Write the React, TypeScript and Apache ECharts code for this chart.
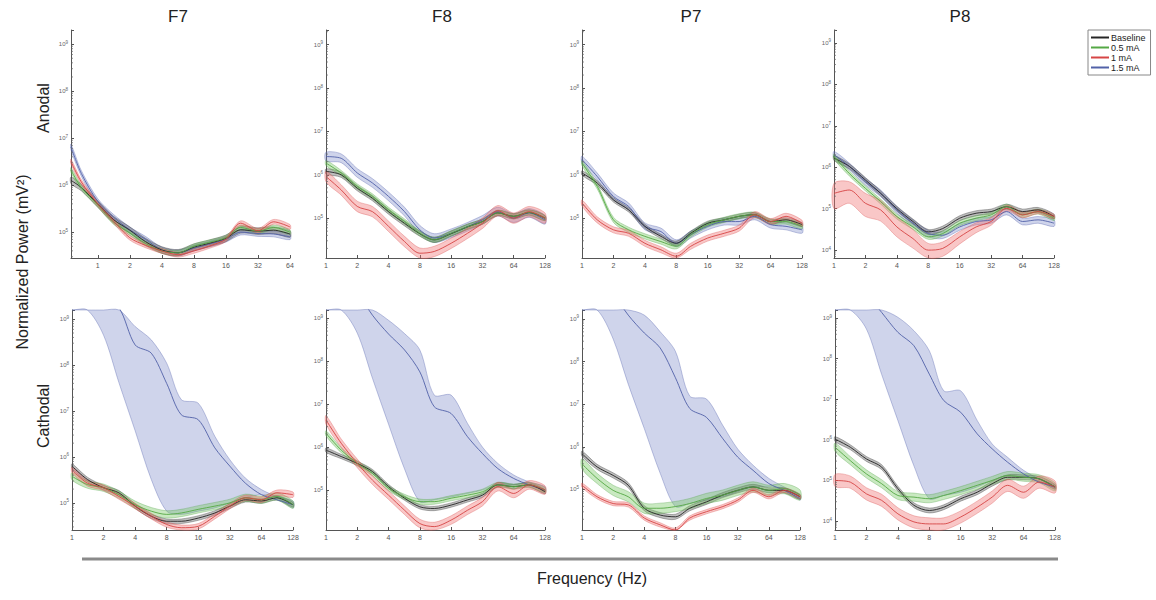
import React, { useEffect, useRef } from 'react';
import * as echarts from 'echarts';

// ---------- DATA ----------
const CONDITIONS = ['Baseline', '0.5 mA', '1 mA', '1.5 mA'];
const CHANNELS = ['F7', 'F8', 'P7', 'P8'];
const ROWS = ['Anodal', 'Cathodal'];

const FREQ = [1, 1.4, 2, 2.8, 4, 5.7, 8, 11, 16, 23, 32, 45, 64, 90, 128];
const FREQ_F7_ANODAL = [0.56, 0.7, 1, 1.4, 2, 2.8, 4, 5.7, 8, 11, 16, 22, 32, 45, 64];

// F7 anodal
const F7_ANODAL_BASELINE = [1.26e6, 8.9e5, 3.98e5, 1.86e5, 1.1e5, 6.31e4, 4.17e4, 3.63e4, 4.79e4, 5.75e4, 7.41e4, 1.12e5, 1.05e5, 1.1e5, 9.12e4];
const F7_ANODAL_05MA = [2.09e6, 8.9e5, 3.8e5, 1.66e5, 9.55e4, 5.75e4, 3.98e4, 3.63e4, 5.01e4, 6.03e4, 7.59e4, 1.26e5, 1.05e5, 1.26e5, 1.0e5];
const F7_ANODAL_1MA = [3.16e6, 1.17e6, 3.98e5, 1.74e5, 7.59e4, 5.25e4, 3.98e4, 3.31e4, 3.98e4, 5.01e4, 7.08e4, 1.55e5, 1.07e5, 1.66e5, 1.29e5];
const F7_ANODAL_15MA = [6.46e6, 1.78e6, 4.47e5, 2.09e5, 1.12e5, 7.08e4, 4.17e4, 3.63e4, 4.57e4, 5.5e4, 7.08e4, 1.0e5, 9.33e4, 9.12e4, 7.94e4];
const F7_ANODAL_SEM = [0.07, 0.05, 0.05, 0.06];

// F8 anodal
const F8_ANODAL_BASELINE = [1.2e6, 1.0e6, 4.9e5, 2.88e5, 1.41e5, 7.59e4, 4.37e4, 3.16e4, 4.37e4, 6.31e4, 8.32e4, 1.32e5, 1.1e5, 1.35e5, 1.0e5];
const F8_ANODAL_05MA = [1.86e6, 1.1e6, 5.37e5, 3.16e5, 1.55e5, 8.32e4, 4.47e4, 3.16e4, 4.47e4, 6.31e4, 8.32e4, 1.32e5, 1.1e5, 1.35e5, 1.0e5];
const F8_ANODAL_1MA = [9.12e5, 4.47e5, 1.86e5, 1.41e5, 6.46e4, 2.88e4, 1.55e4, 1.7e4, 2.63e4, 4.47e4, 7.59e4, 1.48e5, 1.0e5, 1.41e5, 1.0e5];
const F8_ANODAL_15MA = [2.63e6, 2.4e6, 1.1e6, 6.46e5, 3.16e5, 1.41e5, 5.37e4, 3.47e4, 4.47e4, 6.31e4, 9.12e4, 1.41e5, 1.0e5, 1.32e5, 9.12e4];
const F8_ANODAL_SEM = [0.06, 0.06, 0.12, 0.1];

// P7 anodal
const P7_ANODAL_BASELINE = [1.1e6, 6.46e5, 2.63e5, 1.55e5, 6.46e4, 3.8e4, 2.63e4, 4.47e4, 7.59e4, 9.12e4, 1.1e5, 1.2e5, 8.32e4, 9.12e4, 7.08e4];
const P7_ANODAL_05MA = [1.86e6, 5.37e5, 9.12e4, 5.37e4, 3.8e4, 2.88e4, 2.24e4, 4.17e4, 7.08e4, 9.12e4, 1.1e5, 1.2e5, 8.32e4, 8.32e4, 6.46e4];
const P7_ANODAL_1MA = [2.24e5, 9.12e4, 5.37e4, 4.47e4, 2.63e4, 1.86e4, 1.32e4, 2.24e4, 3.47e4, 4.47e4, 5.89e4, 1.2e5, 8.32e4, 1.1e5, 7.59e4];
const P7_ANODAL_15MA = [2.24e6, 9.12e5, 3.16e5, 1.86e5, 6.46e4, 4.9e4, 2.63e4, 4.17e4, 6.46e4, 8.32e4, 8.32e4, 1.1e5, 7.08e4, 6.46e4, 5.37e4];
const P7_ANODAL_SEM = [0.05, 0.06, 0.07, 0.08];

// P8 anodal
const P8_ANODAL_BASELINE = [1.66e6, 1.05e6, 4.9e5, 2.34e5, 1.0e5, 4.9e4, 2.75e4, 3.31e4, 5.89e4, 7.76e4, 8.51e4, 1.12e5, 8.51e4, 9.33e4, 6.46e4];
const P8_ANODAL_05MA = [1.82e6, 7.08e5, 3.09e5, 1.48e5, 6.46e4, 3.63e4, 2.09e4, 2.51e4, 4.47e4, 5.89e4, 7.08e4, 1.12e5, 7.08e4, 8.51e4, 5.89e4];
const P8_ANODAL_1MA = [2.34e5, 2.82e5, 1.35e5, 9.33e4, 3.63e4, 1.9e4, 1.0e4, 1.1e4, 2.09e4, 3.63e4, 4.9e4, 1.02e5, 7.08e4, 8.51e4, 6.46e4];
const P8_ANODAL_1MA_HI = [4.07e5, 4.47e5, 2.34e5, 1.58e5, 6.46e4, 3.16e4, 1.45e4, 1.58e4, 2.82e4, 4.57e4, 6.03e4, 1.2e5, 8.32e4, 9.55e4, 7.24e4];
const P8_ANODAL_1MA_LO = [1.0e5, 1.35e5, 6.46e4, 5.01e4, 2.09e4, 1.12e4, 6.03e3, 7.08e3, 1.41e4, 2.63e4, 3.98e4, 8.71e4, 6.03e4, 7.59e4, 5.75e4];
const P8_ANODAL_15MA = [2.0e6, 1.05e6, 4.47e5, 2.34e5, 9.33e4, 4.47e4, 2.51e4, 2.29e4, 3.63e4, 4.9e4, 5.37e4, 8.51e4, 4.9e4, 5.37e4, 4.47e4];
const P8_ANODAL_SEM = [0.06, 0.06, 0, 0.08];

// F7 cathodal
const F7_CATHODAL_BASELINE = [6.31e5, 3.24e5, 2.14e5, 1.66e5, 8.51e4, 5.13e4, 3.98e4, 3.98e4, 4.68e4, 6.03e4, 8.51e4, 1.17e5, 1.1e5, 1.29e5, 9.12e4];
const F7_CATHODAL_05MA = [3.8e5, 2.51e5, 2.14e5, 1.51e5, 9.12e4, 6.61e4, 5.62e4, 6.03e4, 7.24e4, 8.51e4, 1.0e5, 1.29e5, 1.17e5, 1.38e5, 9.12e4];
const F7_CATHODAL_1MA = [5.25e5, 2.69e5, 2.14e5, 1.38e5, 8.51e4, 5.13e4, 3.39e4, 2.88e4, 3.09e4, 5.13e4, 8.51e4, 1.29e5, 1.17e5, 1.66e5, 1.51e5];
const F7_CATHODAL_15MA = [6.3e9, 4.0e9, 2.5e9, 1.78e9, 2.75e8, 1.82e8, 3.98e7, 8.32e6, 6.46e6, 1.58e6, 6.31e5, 2.69e5, 1.51e5, 1.17e5, 9.12e4];
const F7_CATHODAL_15MA_HI = [1e11, 5e10, 1e10, 3.16e9, 6.92e8, 3.55e8, 1.1e8, 1.78e7, 1.48e7, 2.82e6, 8.71e5, 3.47e5, 1.95e5, 1.38e5, 1.1e5];
const F7_CATHODAL_15MA_LO = [9.5e10, 6.0e9, 4.47e8, 4.17e7, 3.72e6, 3.24e5, 6.61e4, 5.62e4, 6.61e4, 7.76e4, 1.0e5, 1.29e5, 1.51e5, 1.29e5, 7.76e4];
const F7_CATHODAL_SEM = [0.05, 0.08, 0.06, 0];

// F8 cathodal
const F8_CATHODAL_BASELINE = [8.51e5, 6.03e5, 4.17e5, 2.69e5, 1.2e5, 6.46e4, 4.07e4, 3.72e4, 4.47e4, 5.89e4, 7.59e4, 1.32e5, 1.2e5, 1.32e5, 9.12e4];
const F8_CATHODAL_05MA = [2.09e6, 8.51e5, 4.17e5, 2.45e5, 1.1e5, 6.92e4, 5.37e4, 5.37e4, 6.46e4, 7.59e4, 9.12e4, 1.32e5, 1.2e5, 1.32e5, 1.0e5];
const F8_CATHODAL_1MA = [4.27e6, 1.23e6, 4.17e5, 1.7e5, 7.59e4, 3.39e4, 1.66e4, 1.41e4, 2.0e4, 3.39e4, 5.37e4, 1.2e5, 8.32e4, 1.32e5, 1.0e5];
const F8_CATHODAL_15MA = [3.16e10, 1e10, 3.98e9, 1.17e9, 4.27e8, 1.82e8, 5.62e7, 8.71e6, 6.03e6, 1.74e6, 7.08e5, 3.16e5, 1.86e5, 1.32e5, 1.0e5];
const F8_CATHODAL_15MA_HI = [1e11, 3.16e10, 1e10, 2.5e9, 8.91e8, 4.37e8, 1.82e8, 1.62e7, 1.62e7, 3.55e6, 1.0e6, 4.17e5, 2.24e5, 1.55e5, 1.2e5];
const F8_CATHODAL_15MA_LO = [5.5e10, 5.25e9, 4.47e8, 3.98e7, 3.39e6, 3.09e5, 5.37e4, 5.89e4, 6.92e4, 8.32e4, 1.0e5, 1.32e5, 1.32e5, 1.45e5, 9.12e4];
const F8_CATHODAL_SEM = [0.05, 0.06, 0.1, 0];

// P7 cathodal
const P7_CATHODAL_BASELINE = [6.92e5, 3.39e5, 2.14e5, 1.26e5, 3.63e4, 2.51e4, 2.29e4, 3.63e4, 5.13e4, 7.41e4, 9.55e4, 1.15e5, 9.55e4, 9.55e4, 6.76e4];
const P7_CATHODAL_05MA = [3.98e5, 1.82e5, 9.55e4, 6.76e4, 3.63e4, 3.63e4, 3.98e4, 4.68e4, 6.17e4, 7.41e4, 9.55e4, 1.15e5, 9.55e4, 1.05e5, 7.41e4];
const P7_CATHODAL_1MA = [1.26e5, 6.76e4, 4.68e4, 4.37e4, 2.14e4, 1.48e4, 1.12e4, 2.14e4, 3.02e4, 3.98e4, 5.62e4, 9.55e4, 6.76e4, 9.55e4, 6.76e4];
const P7_CATHODAL_15MA = [3.98e10, 1.26e10, 3.98e9, 1.23e9, 4.68e8, 2.09e8, 4.17e7, 7.94e6, 4.9e6, 1.55e6, 5.75e5, 2.82e5, 1.38e5, 9.55e4, 6.17e4];
const P7_CATHODAL_15MA_HI = [1e11, 3.16e10, 1e10, 3.16e9, 1.23e9, 5.01e8, 1.74e8, 1.55e7, 1.32e7, 3.16e6, 8.91e5, 3.72e5, 1.82e5, 1.15e5, 7.41e4];
const P7_CATHODAL_15MA_LO = [4.57e10, 4.47e9, 3.39e8, 2.95e7, 2.69e6, 2.4e5, 3.98e4, 4.68e4, 5.62e4, 6.76e4, 8.91e4, 1.15e5, 1.15e5, 1.05e5, 5.62e4];
const P7_CATHODAL_SEM = [0.06, 0.12, 0.05, 0];

// P8 cathodal
const P8_CATHODAL_BASELINE = [1.05e6, 6.61e5, 3.39e5, 2.14e5, 6.31e4, 2.45e4, 1.82e4, 2.19e4, 3.55e4, 5.13e4, 8.32e4, 1.2e5, 1.2e5, 1.1e5, 6.92e4];
const P8_CATHODAL_05MA = [6.61e5, 3.09e5, 1.45e5, 8.32e4, 4.27e4, 3.89e4, 3.55e4, 4.27e4, 5.62e4, 7.59e4, 1.0e5, 1.32e5, 1.2e5, 1.1e5, 6.92e4];
const P8_CATHODAL_1MA = [1.0e5, 9.12e4, 4.68e4, 3.24e4, 1.51e4, 9.55e3, 8.51e3, 8.51e3, 1.26e4, 2.19e4, 3.89e4, 7.59e4, 5.13e4, 9.12e4, 6.92e4];
const P8_CATHODAL_15MA = [3.98e10, 1.26e10, 3.98e9, 1.38e9, 4.47e8, 2.09e8, 4.17e7, 9.33e6, 4.79e6, 1.41e6, 6.03e5, 2.82e5, 1.45e5, 9.12e4, 6.92e4];
const P8_CATHODAL_15MA_HI = [1e11, 3.16e10, 1e10, 3.16e9, 1.05e9, 4.9e8, 1.58e8, 1.62e7, 1.62e7, 3.02e6, 7.94e5, 3.72e5, 1.78e5, 1.1e5, 7.59e4];
const P8_CATHODAL_15MA_LO = [9.33e10, 7.41e9, 5.37e8, 4.07e7, 3.02e6, 2.29e5, 3.55e4, 4.27e4, 5.13e4, 6.92e4, 1.0e5, 1.32e5, 1.2e5, 1.1e5, 6.31e4];
const P8_CATHODAL_SEM = [0.06, 0.1, 0.15, 0];

// ---------- ASSEMBLY ----------
type Cond = { mean: number[]; lo?: number[]; hi?: number[] };
type Panel = { freq: number[]; conds: Cond[]; sem: number[] };

const PANELS: Panel[] = [
  { freq: FREQ_F7_ANODAL, sem: F7_ANODAL_SEM, conds: [{ mean: F7_ANODAL_BASELINE }, { mean: F7_ANODAL_05MA }, { mean: F7_ANODAL_1MA }, { mean: F7_ANODAL_15MA }] },
  { freq: FREQ, sem: F8_ANODAL_SEM, conds: [{ mean: F8_ANODAL_BASELINE }, { mean: F8_ANODAL_05MA }, { mean: F8_ANODAL_1MA }, { mean: F8_ANODAL_15MA }] },
  { freq: FREQ, sem: P7_ANODAL_SEM, conds: [{ mean: P7_ANODAL_BASELINE }, { mean: P7_ANODAL_05MA }, { mean: P7_ANODAL_1MA }, { mean: P7_ANODAL_15MA }] },
  { freq: FREQ, sem: P8_ANODAL_SEM, conds: [{ mean: P8_ANODAL_BASELINE }, { mean: P8_ANODAL_05MA }, { mean: P8_ANODAL_1MA, lo: P8_ANODAL_1MA_LO, hi: P8_ANODAL_1MA_HI }, { mean: P8_ANODAL_15MA }] },
  { freq: FREQ, sem: F7_CATHODAL_SEM, conds: [{ mean: F7_CATHODAL_BASELINE }, { mean: F7_CATHODAL_05MA }, { mean: F7_CATHODAL_1MA }, { mean: F7_CATHODAL_15MA, lo: F7_CATHODAL_15MA_LO, hi: F7_CATHODAL_15MA_HI }] },
  { freq: FREQ, sem: F8_CATHODAL_SEM, conds: [{ mean: F8_CATHODAL_BASELINE }, { mean: F8_CATHODAL_05MA }, { mean: F8_CATHODAL_1MA }, { mean: F8_CATHODAL_15MA, lo: F8_CATHODAL_15MA_LO, hi: F8_CATHODAL_15MA_HI }] },
  { freq: FREQ, sem: P7_CATHODAL_SEM, conds: [{ mean: P7_CATHODAL_BASELINE }, { mean: P7_CATHODAL_05MA }, { mean: P7_CATHODAL_1MA }, { mean: P7_CATHODAL_15MA, lo: P7_CATHODAL_15MA_LO, hi: P7_CATHODAL_15MA_HI }] },
  { freq: FREQ, sem: P8_CATHODAL_SEM, conds: [{ mean: P8_CATHODAL_BASELINE }, { mean: P8_CATHODAL_05MA }, { mean: P8_CATHODAL_1MA }, { mean: P8_CATHODAL_15MA, lo: P8_CATHODAL_15MA_LO, hi: P8_CATHODAL_15MA_HI }] },
];

// ---------- LAYOUT / STYLE ----------
const PANEL_LAYOUT = [
  { left: 71, top: 30, width: 219, height: 228, yMinExp: 4.45, yMaxExp: 9.3, xMin: 0.56, xMax: 64 },
  { left: 326, top: 30, width: 219, height: 228, yMinExp: 4.08, yMaxExp: 9.34, xMin: 1, xMax: 128 },
  { left: 582, top: 30, width: 220, height: 228, yMinExp: 4.08, yMaxExp: 9.34, xMin: 1, xMax: 128 },
  { left: 834, top: 30, width: 220, height: 228, yMinExp: 3.81, yMaxExp: 9.31, xMin: 1, xMax: 128 },
  { left: 72, top: 310, width: 221, height: 220, yMinExp: 4.41, yMaxExp: 9.2, xMin: 1, xMax: 128 },
  { left: 326, top: 310, width: 219, height: 220, yMinExp: 4.07, yMaxExp: 9.19, xMin: 1, xMax: 128 },
  { left: 582, top: 310, width: 218, height: 220, yMinExp: 4.05, yMaxExp: 9.21, xMin: 1, xMax: 128 },
  { left: 835, top: 310, width: 220, height: 220, yMinExp: 3.78, yMaxExp: 9.2, xMin: 1, xMax: 128 },
];
const TITLE_X = [178, 442, 691, 960];
const ROW_Y = [108, 416];

const FONT = '"Liberation Sans", Arial, Helvetica, sans-serif';
const LINE_COLORS = ['#262626', '#55a845', '#d64545', '#5262a8'];
const BAND_FILL = ['rgba(70,70,70,0.35)', 'rgba(120,200,100,0.4)', 'rgba(240,115,115,0.4)', 'rgba(110,125,195,0.33)'];
const BAND_EDGE = ['rgba(40,40,40,0.55)', 'rgba(80,160,70,0.55)', 'rgba(215,75,75,0.55)', 'rgba(80,95,170,0.6)'];
const DRAW_ORDER = [3, 0, 1, 2];

const yLabel = (v: number) => {
  const e = Math.log10(v);
  const r = Math.round(e);
  if (Math.abs(e - r) > 0.02) return '';
  return `{b|10}{s|${r}}`;
};
const xLabel = (v: number) => {
  const e = Math.log2(v);
  const r = Math.round(e);
  if (Math.abs(e - r) > 0.02 || r < 0) return '';
  return String(Math.round(v));
};

// minor tick positions of a log10 axis (2..9 x 10^k inside the range)
function minorTickValues(minExp: number, maxExp: number) {
  const out: number[] = [];
  for (let k = Math.floor(minExp); k <= Math.ceil(maxExp); k++) {
    for (let m = 2; m <= 9; m++) {
      const v = m * Math.pow(10, k);
      const e = Math.log10(v);
      if (e > minExp && e < maxExp) out.push(v);
    }
  }
  return out;
}

function buildOption() {
  const grid: any[] = [];
  const xAxis: any[] = [];
  const yAxis: any[] = [];
  const series: any[] = [];

  PANELS.forEach((panel, p) => {
    const L = PANEL_LAYOUT[p];
    grid.push({ left: L.left, top: L.top, width: L.width, height: L.height });
    xAxis.push({
      type: 'log', logBase: 2, gridIndex: p, min: L.xMin, max: L.xMax,
      axisLine: { show: true, onZero: false, lineStyle: { color: '#555', width: 1 } },
      axisTick: { show: true, inside: true, length: 3, lineStyle: { color: '#555' } },
      axisLabel: { formatter: xLabel, fontSize: 7, color: '#555', margin: 4, fontFamily: FONT },
      splitLine: { show: false },
    });
    yAxis.push({
      type: 'log', logBase: 10, gridIndex: p, min: Math.pow(10, L.yMinExp), max: Math.pow(10, L.yMaxExp),
      axisLine: { show: true, onZero: false, lineStyle: { color: '#555', width: 1 } },
      axisTick: { show: true, inside: true, length: 3, lineStyle: { color: '#555' } },
      axisLabel: {
        formatter: yLabel, margin: 3, color: '#666',
        rich: {
          b: { fontSize: 6, color: '#666', fontFamily: FONT },
          s: { fontSize: 4.5, color: '#666', fontFamily: FONT, padding: [0, 0, 4, 0] },
        },
      },
      splitLine: { show: false },
    });

    // y-axis minor ticks
    const minors = minorTickValues(L.yMinExp, L.yMaxExp);
    series.push({
      type: 'custom', xAxisIndex: p, yAxisIndex: p, silent: true, z: 3,
      data: minors.map((v) => [L.xMin, v]),
      renderItem: (params: any, api: any) => {
        const cs = params.coordSys;
        const pt = api.coord([api.value(0), api.value(1)]);
        return {
          type: 'line',
          shape: { x1: cs.x, y1: pt[1], x2: cs.x + 2, y2: pt[1] },
          style: { stroke: '#666', lineWidth: 0.7 },
        };
      },
    });

    const freq = panel.freq;
    DRAW_ORDER.forEach((k) => {
      const c = panel.conds[k];
      const f = Math.pow(10, panel.sem[k]);
      const lo = c.lo ?? c.mean.map((v) => v / f);
      const hi = c.hi ?? c.mean.map((v) => v * f);
      series.push({
        type: 'custom', xAxisIndex: p, yAxisIndex: p, silent: true, z: 1,
        data: [[freq[freq.length - 1], c.mean[c.mean.length - 1]]],
        renderItem: (params: any, api: any) => {
          const cs = params.coordSys;
          const up = freq.map((fr, i) => api.coord([fr, hi[i]]));
          const dn = freq.map((fr, i) => api.coord([fr, lo[i]])).reverse();
          const pts = echarts.graphic.clipPointsByRect(up.concat(dn), {
            x: cs.x, y: cs.y, width: cs.width, height: cs.height,
          });
          return {
            type: 'polygon',
            shape: { points: pts, smooth: 0.3 },
            style: { fill: BAND_FILL[k], stroke: BAND_EDGE[k], lineWidth: 0.6 },
          };
        },
      });
    });
    DRAW_ORDER.forEach((k) => {
      const c = panel.conds[k];
      series.push({
        type: 'line', name: CONDITIONS[k], xAxisIndex: p, yAxisIndex: p, z: 2, silent: true,
        data: freq.map((fr, i) => [fr, c.mean[i]]),
        showSymbol: false, symbol: 'none', smooth: 0.3, clip: true,
        color: LINE_COLORS[k],
        itemStyle: { color: LINE_COLORS[k] },
        lineStyle: { width: 1, color: LINE_COLORS[k], opacity: 0.9 },
      });
    });
  });

  const graphic: any[] = [];
  CHANNELS.forEach((ch, i) => {
    graphic.push({
      type: 'text', x: TITLE_X[i], y: 16,
      style: { text: ch, fontSize: 17, fontFamily: FONT, fill: '#222', textAlign: 'center', textVerticalAlign: 'middle' },
    });
  });
  ROWS.forEach((r, i) => {
    graphic.push({
      type: 'text', x: 43, y: ROW_Y[i], rotation: Math.PI / 2,
      style: { text: r, fontSize: 16, fontFamily: FONT, fill: '#222', textAlign: 'center', textVerticalAlign: 'middle' },
    });
  });
  graphic.push({
    type: 'text', x: 22, y: 262, rotation: Math.PI / 2,
    style: { text: 'Normalized Power (mV²)', fontSize: 16, fontFamily: FONT, fill: '#222', textAlign: 'center', textVerticalAlign: 'middle' },
  });
  graphic.push({
    type: 'line', shape: { x1: 82, y1: 559, x2: 1058, y2: 559 },
    style: { stroke: '#8a8a8a', lineWidth: 3 },
  });
  graphic.push({
    type: 'text', x: 592, y: 578,
    style: { text: 'Frequency (Hz)', fontSize: 16, fontFamily: FONT, fill: '#222', textAlign: 'center', textVerticalAlign: 'middle' },
  });

  return {
    animation: false,
    backgroundColor: '#ffffff',
    grid, xAxis, yAxis, series, graphic,
    legend: {
      data: CONDITIONS, orient: 'vertical', left: 1088, top: 30,
      itemWidth: 18, itemHeight: 2, itemGap: 1, icon: 'rect',
      borderColor: '#888', borderWidth: 1, borderRadius: 0, padding: [3, 5, 3, 3],
      backgroundColor: '#fff', selectedMode: false,
      textStyle: { fontSize: 9, fontFamily: FONT, color: '#222', padding: [0, 0, 0, -3] },
    },
  };
}

export default function App() {
  const ref = useRef<HTMLDivElement>(null);
  useEffect(() => {
    if (!ref.current) return;
    const chart = echarts.init(ref.current, null, { renderer: 'svg' });
    chart.setOption(buildOption() as any);
    return () => chart.dispose();
  }, []);
  return (
    <div
      ref={ref}
      style={{ position: 'absolute', left: 0, top: 0, width: 1156, height: 600, background: '#fff' }}
    />
  );
}
